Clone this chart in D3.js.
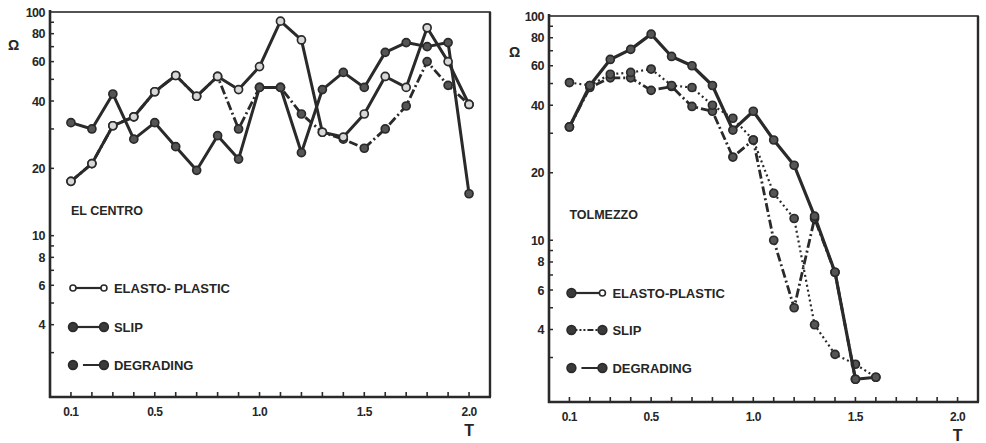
<!DOCTYPE html>
<html>
<head>
<meta charset="utf-8">
<script src="https://cdn.jsdelivr.net/npm/d3@7"></script>
<style>
  body { margin: 0; background: #fff; }
  text { font-family: "Liberation Sans", Arial, sans-serif; font-weight: bold; fill: #262626; }
</style>
</head>
<body>
<script>
'use strict';

//periods (T)
var centroT = [0.1, 0.2, 0.3, 0.4, 0.5, 0.6, 0.7, 0.8, 0.9, 1.0, 1.1, 1.2, 1.3, 1.4, 1.5, 1.6, 1.7, 1.8, 1.9, 2.0];
var tolmezzoT = [0.1, 0.2, 0.3, 0.4, 0.5, 0.6, 0.7, 0.8, 0.9, 1.0, 1.1, 1.2, 1.3, 1.4, 1.5, 1.6];

//El Centro
var centroElasto = [17.5, 21, 31, 34, 44, 52, 42, 51.5, 45, 57, 91, 75, 29, 27.6, 35, 51.5, 46, 85, 60, 38.6];
var centroSlip = [32, 30, 43, 27, 32, 25, 19.6, 28, 22, 46, 46, 23.5, 45, 53.7, 46, 66, 73, 70, 73, 15.4];
var centroDegrading = [17.5, 21, 31, 34, 44, 52, 42, 51.5, 30, 46, 46, 35, 29, 27, 24.6, 30, 38, 60, 47, 38.6];

//Tolmezzo
var tolmezzoElasto = [32, 49, 64, 71, 83, 66, 60, 49, 31, 37.6, 28, 21.6, 12.8, 7.2, 2.4, 2.45];
var tolmezzoSlip = [50.5, 49, 55, 56, 58, 49, 48, 40, 35, 28, 16.2, 12.5, 4.2, 3.1, 2.8, 2.45];
var tolmezzoDegrading = [32, 48, 53, 53, 46.6, 48.5, 39.5, 37.6, 23.5, 28, 10, 5.0, 12.5, 7.2, 2.4];

//axis ticks
var yTickLabels = [100, 80, 60, 40, 20, 10, 8, 6, 4];
var yMinorTicks = [3, 4, 5, 6, 7, 8, 9, 10, 20, 30, 40, 50, 60, 70, 80, 90];
var xTicks = [0.1, 0.2, 0.3, 0.4, 0.5, 0.6, 0.7, 0.8, 0.9, 1.0, 1.1, 1.2, 1.3, 1.4, 1.5, 1.6, 1.7, 1.8, 1.9, 2.0];
var xTickLabels = [0.1, 0.5, 1.0, 1.5, 2.0];

var ink = '#2a2a2a';

var svg = d3.select('body').append('svg').attr('width', 986).attr('height', 443);

function drawPanel(p) {
  var x = d3.scaleLinear().domain([0, 2.1]).range([p.left, p.right]);
  var y = d3.scaleLog().domain([1.9, 100]).range([p.bottom, p.top]);
  var g = svg.append('g');

  //frame
  g.append('rect').attr('x', p.left).attr('y', p.top).attr('width', p.right - p.left).attr('height', p.bottom - p.top)
    .attr('fill', 'none').attr('stroke', ink).attr('stroke-width', 1.6);
  g.append('line').attr('x1', p.left).attr('x2', p.left).attr('y1', p.top - 2).attr('y2', p.bottom + 1)
    .attr('stroke', ink).attr('stroke-width', 2.6);
  g.append('line').attr('x1', p.left - 1).attr('x2', p.right + 1).attr('y1', p.bottom).attr('y2', p.bottom)
    .attr('stroke', ink).attr('stroke-width', 2.6);
  g.append('line').attr('x1', p.right).attr('x2', p.right).attr('y1', p.top).attr('y2', p.bottom)
    .attr('stroke', ink).attr('stroke-width', 2.4);

  //y axis
  g.selectAll('.ytick').data(yMinorTicks).enter().append('line')
    .attr('x1', p.left).attr('x2', p.left + 4)
    .attr('y1', function (d) { return y(d); }).attr('y2', function (d) { return y(d); })
    .attr('stroke', ink).attr('stroke-width', 1.5);
  g.selectAll('.ylab').data(yTickLabels).enter().append('text')
    .attr('x', p.left - 5).attr('y', function (d) { return y(d) + 4.5; })
    .attr('text-anchor', 'end').style('font-size', '12.5px').style('letter-spacing', '-0.5px')
    .text(function (d) { return d; });
  g.append('text').attr('x', p.omegaX).attr('y', p.omegaY).style('font-size', '14px').text('Ω');

  //x axis
  g.selectAll('.xtick').data(xTicks).enter().append('line')
    .attr('x1', function (d) { return x(d); }).attr('x2', function (d) { return x(d); })
    .attr('y1', p.bottom).attr('y2', p.bottom - 5)
    .attr('stroke', ink).attr('stroke-width', 1.6);
  g.selectAll('.xlab').data(xTickLabels).enter().append('text')
    .attr('x', function (d) { return x(d); }).attr('y', p.bottom + 19)
    .attr('text-anchor', 'middle').style('font-size', '12px').style('letter-spacing', '-0.5px')
    .text(function (d) { return d.toFixed(1); });
  g.append('text').attr('x', x(2.0)).attr('y', p.bottom + 39).attr('text-anchor', 'middle').style('font-size', '16px').text('T');

  //title
  g.append('text').attr('x', x(0.1)).attr('y', p.titleY).style('font-size', '12.5px').text(p.title);

  //series
  p.series.forEach(function (s) {
    var line = d3.line().x(function (d) { return x(d[0]); }).y(function (d) { return y(d[1]); });
    var pts = s.values.map(function (v, i) { return [p.t[i], v]; });
    g.append('path').datum(pts).attr('d', line).attr('fill', 'none')
      .attr('stroke', ink).attr('stroke-width', s.width).attr('stroke-dasharray', s.dash)
      .attr('stroke-linejoin', 'round');
    g.selectAll(null).data(pts).enter().append('circle')
      .attr('cx', function (d) { return x(d[0]); }).attr('cy', function (d) { return y(d[1]); })
      .attr('r', 4).attr('fill', s.open ? '#d8d8d8' : '#555').attr('stroke', ink).attr('stroke-width', 1.7);
  });

  //legend
  p.legend.forEach(function (l, i) {
    var ly = p.legendY[i];
    var x0 = x(0.1) + 2, x1 = x(0.1) + 33;
    g.append('line').attr('x1', x0).attr('x2', x1).attr('y1', ly).attr('y2', ly)
      .attr('stroke', ink).attr('stroke-width', 2.2).attr('stroke-dasharray', l.dash);
    g.append('circle').attr('cx', x0).attr('cy', ly).attr('r', l.leftOpen ? 3 : 4.4)
      .attr('fill', l.leftOpen ? '#fff' : '#3a3a3a').attr('stroke', ink).attr('stroke-width', 1.6);
    g.append('circle').attr('cx', x1).attr('cy', ly).attr('r', l.rightOpen ? 3 : 4.4)
      .attr('fill', l.rightOpen ? '#fff' : '#3a3a3a').attr('stroke', ink).attr('stroke-width', 1.6);
    g.append('text').attr('x', x1 + 10).attr('y', ly + 5).style('font-size', '13px').text(l.label);
  });
}

drawPanel({
  left: 50, right: 490, top: 12, bottom: 397,
  t: centroT, title: 'EL CENTRO', titleY: 215, omegaX: 8, omegaY: 50,
  series: [
    { values: centroDegrading, dash: '9,3,2,3', width: 2.8, open: false },
    { values: centroSlip, dash: null, width: 3, open: false },
    { values: centroElasto, dash: null, width: 3, open: true }
  ],
  legend: [
    { label: 'ELASTO- PLASTIC', dash: null, leftOpen: true, rightOpen: true },
    { label: 'SLIP', dash: null, leftOpen: false, rightOpen: false },
    { label: 'DEGRADING', dash: '0,10,40', leftOpen: false, rightOpen: false }
  ],
  legendY: [288, 327, 365]
});

drawPanel({
  left: 549, right: 978, top: 16, bottom: 402,
  t: tolmezzoT, title: 'TOLMEZZO', titleY: 219, omegaX: 509, omegaY: 57,
  series: [
    { values: tolmezzoDegrading, dash: '9,3,2,3', width: 2.8, open: false },
    { values: tolmezzoSlip, dash: '2,3', width: 2.2, open: false },
    { values: tolmezzoElasto, dash: null, width: 3.2, open: false }
  ],
  legend: [
    { label: 'ELASTO-PLASTIC', dash: null, leftOpen: false, rightOpen: true },
    { label: 'SLIP', dash: '6,2,2,2,2,2', leftOpen: false, rightOpen: false },
    { label: 'DEGRADING', dash: '0,10,40', leftOpen: false, rightOpen: false }
  ],
  legendY: [293, 330, 368]
});
</script>
</body>
</html>
